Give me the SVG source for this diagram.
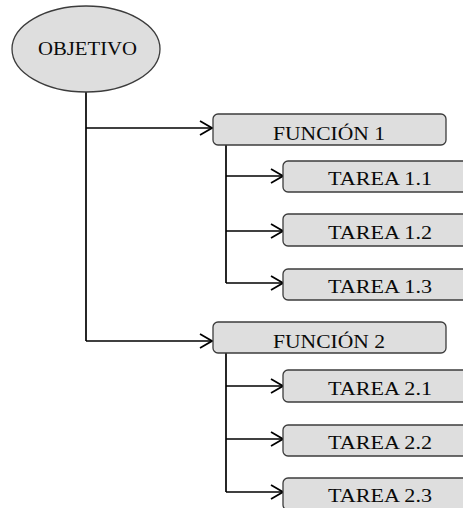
<svg xmlns="http://www.w3.org/2000/svg" width="463" height="508" viewBox="0 0 463 508">
  <style>
    .box { fill: #dedede; stroke: #3c3c3c; stroke-width: 1.3; }
    .lbl { font-family: "Liberation Serif", "Times New Roman", serif; font-size: 18px; fill: #0a0a0a; text-anchor: middle; }
    .wire { fill: none; stroke: #000; stroke-width: 1.7; }
  </style>
  <defs>
    <marker id="open" viewBox="0 0 14 16" refX="13" refY="8" markerWidth="14" markerHeight="16" markerUnits="userSpaceOnUse" orient="auto">
      <path d="M1,1 L13,8 L1,15" fill="none" stroke="#000" stroke-width="1.7"/>
    </marker>
  </defs>
  <rect width="463" height="508" fill="#fff"/>

  <g id="connectors">
    <!-- trunk from the objective -->
    <path class="wire" d="M86,92 V341"/>
    <path class="wire" d="M86,128 H212" marker-end="url(#open)"/>
    <path class="wire" d="M86,341 H212" marker-end="url(#open)"/>
    <!-- branch of function 1 -->
    <path class="wire" d="M226,145 V283"/>
    <path class="wire" d="M226,176 H283" marker-end="url(#open)"/>
    <path class="wire" d="M226,231 H283" marker-end="url(#open)"/>
    <path class="wire" d="M226,283 H283" marker-end="url(#open)"/>
    <!-- branch of function 2 -->
    <path class="wire" d="M226,353 V492"/>
    <path class="wire" d="M226,386 H283" marker-end="url(#open)"/>
    <path class="wire" d="M226,439 H283" marker-end="url(#open)"/>
    <path class="wire" d="M226,492 H283" marker-end="url(#open)"/>
  </g>

  <g id="objetivo">
    <ellipse class="box" cx="86" cy="49" rx="74" ry="43"/>
    <text class="lbl" x="87.5" y="54.5" textLength="99" lengthAdjust="spacingAndGlyphs">OBJETIVO</text>
  </g>

  <g id="funcion1">
    <rect class="box" x="213" y="114" width="233" height="31" rx="5"/>
    <text class="lbl" x="329" y="139.5" textLength="112" lengthAdjust="spacingAndGlyphs">FUNCIÓN  1</text>
  </g>
  <g id="tarea11">
    <rect class="box" x="283" y="161" width="200" height="31" rx="5"/>
    <text class="lbl" x="380" y="185" textLength="104" lengthAdjust="spacingAndGlyphs">TAREA  1.1</text>
  </g>
  <g id="tarea12">
    <rect class="box" x="283" y="214" width="200" height="32" rx="5"/>
    <text class="lbl" x="380" y="238.5" textLength="104" lengthAdjust="spacingAndGlyphs">TAREA  1.2</text>
  </g>
  <g id="tarea13">
    <rect class="box" x="283" y="269" width="200" height="31" rx="5"/>
    <text class="lbl" x="380" y="293" textLength="104" lengthAdjust="spacingAndGlyphs">TAREA  1.3</text>
  </g>

  <g id="funcion2">
    <rect class="box" x="213" y="322" width="233" height="31" rx="5"/>
    <text class="lbl" x="329" y="347.5" textLength="112" lengthAdjust="spacingAndGlyphs">FUNCIÓN  2</text>
  </g>
  <g id="tarea21">
    <rect class="box" x="283" y="370" width="200" height="32" rx="5"/>
    <text class="lbl" x="380" y="394.5" textLength="104" lengthAdjust="spacingAndGlyphs">TAREA  2.1</text>
  </g>
  <g id="tarea22">
    <rect class="box" x="283" y="425" width="200" height="31" rx="5"/>
    <text class="lbl" x="380" y="449" textLength="104" lengthAdjust="spacingAndGlyphs">TAREA  2.2</text>
  </g>
  <g id="tarea23">
    <rect class="box" x="283" y="478" width="200" height="32" rx="5"/>
    <text class="lbl" x="380" y="502" textLength="104" lengthAdjust="spacingAndGlyphs">TAREA  2.3</text>
  </g>
</svg>
